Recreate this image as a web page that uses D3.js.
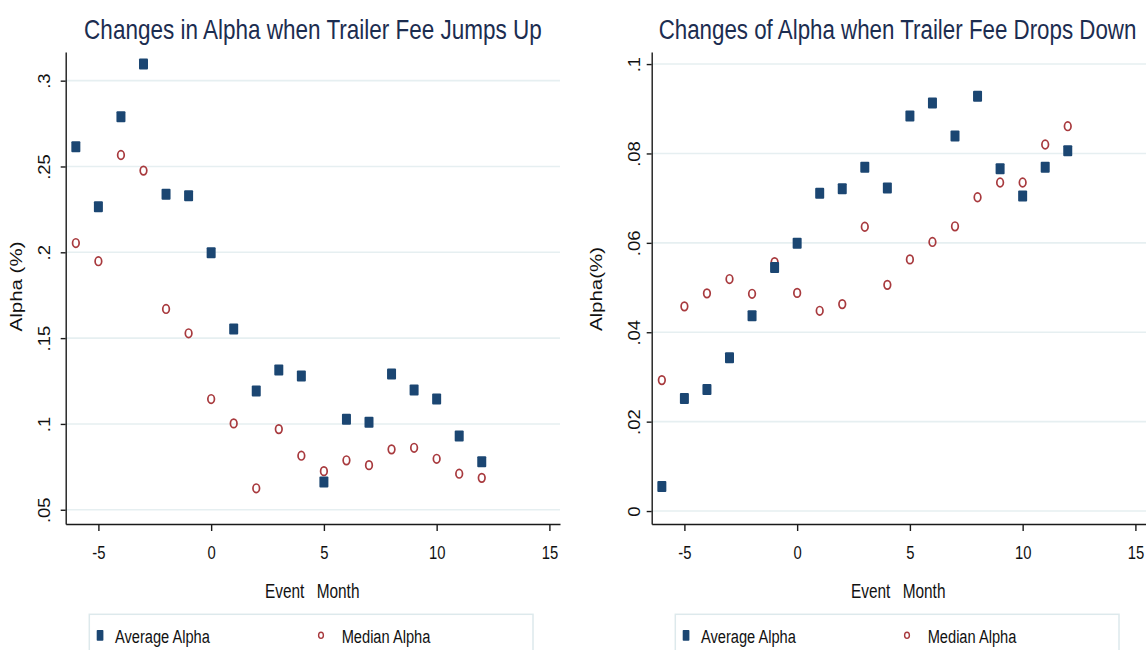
<!DOCTYPE html>
<html><head><meta charset="utf-8">
<script src="https://cdn.jsdelivr.net/npm/d3@7"></script>
<style>body{margin:0;background:#fff} svg text{font-family:"Liberation Sans", Arial, sans-serif}</style>
</head><body><svg id="c" width="1146" height="650"></svg>
<script>
const months = [-6,-5,-4,-3,-2,-1,0,1,2,3,4,5,6,7,8,9,10,11,12];
const upAverage = [0.2615,0.2266,0.279,0.3097,0.2338,0.233,0.1998,0.1553,0.1192,0.1314,0.128,0.0662,0.1027,0.101,0.1291,0.1198,0.1145,0.0929,0.078];
const upMedian  = [0.2054,0.1948,0.2567,0.2476,0.167,0.1528,0.1145,0.1003,0.0625,0.097,0.0815,0.0725,0.0788,0.076,0.0852,0.0861,0.0797,0.071,0.0686];
const downAverage = [0.0055,0.0252,0.0272,0.0343,0.0437,0.0545,0.0599,0.0711,0.0721,0.0769,0.0723,0.0884,0.0913,0.0839,0.0928,0.0766,0.0705,0.0769,0.0806];
const downMedian  = [0.0293,0.0458,0.0487,0.0519,0.0486,0.0557,0.0488,0.0448,0.0463,0.0636,0.0506,0.0563,0.0602,0.0637,0.0702,0.0735,0.0735,0.082,0.0861];
const xTicks = [-5,0,5,10,15];
const xTickLabels = ["-5","0","5","10","15"];
const upYTicks = [0.05,0.1,0.15,0.2,0.25,0.3];
const upYTickLabels = [".05",".1",".15",".2",".25",".3"];
const downYTicks = [0,0.02,0.04,0.06,0.08,0.1];
const downYTickLabels = ["0",".02",".04",".06",".08",".1"];
const titles = ["Changes in Alpha when Trailer Fee Jumps Up","Changes of Alpha when Trailer Fee Drops Down"];
const yTitles = ["Alpha (%)","Alpha(%)"];
const xTitleWords = ["Event","Month"];
const legendLabels = ["Average Alpha","Median Alpha"];

const BLUE = "#1b4672", RED = "#a83a3e", GRID = "#e6eff1", NAVY = "#1c2d50";
const svg = d3.select("#c");

const panels = [
  {ox:0, x0:65.7, yDom:[0.0417,0.3167], avg:upAverage, med:upMedian, yt:upYTicks, ytl:upYTickLabels,
   title:titles[0], titleX:313, titleLen:458, yTitle:yTitles[0], yTitleX:21.6, yTitleY:286.5, tickLabelX:50},
  {ox:586, x0:651.7, yDom:[-0.0029,0.1027], avg:downAverage, med:downMedian, yt:downYTicks, ytl:downYTickLabels,
   title:titles[1], titleX:897.5, titleLen:478, yTitle:yTitles[1], yTitleX:601.6, yTitleY:289, tickLabelX:640}
];
const TOP = 52, BOT = 524, W = 494.3;

panels.forEach(p => {
  const g = svg.append("g");
  const x = d3.scaleLinear().domain([-6.45, 15.47]).range([p.x0, p.x0 + W]);
  const y = d3.scaleLinear().domain(p.yDom).range([BOT, TOP]);

  // grid
  g.append("g").selectAll("line").data(p.yt).join("line")
    .attr("x1", p.x0).attr("x2", p.x0 + W)
    .attr("y1", d => y(d)).attr("y2", d => y(d))
    .attr("stroke", GRID).attr("stroke-width", 1.6);

  // y axis
  const ya = g.append("g").attr("transform", `translate(${p.x0},0)`)
    .call(d3.axisLeft(y).tickValues(p.yt).tickSize(5).tickSizeOuter(0).tickFormat((d,i)=>p.ytl[i]));
  ya.select(".domain").attr("stroke", "#1a1a1a").attr("stroke-width", 1.4);
  ya.selectAll(".tick line").attr("stroke", "#1a1a1a").attr("stroke-width", 1.4);
  ya.selectAll(".tick text").attr("x", null).attr("dy", null)
    .attr("text-anchor", "middle").attr("font-size", 18.5).attr("fill", "#111")
    .attr("font-family", "Liberation Sans, Arial, sans-serif")
    .attr("transform", `translate(${p.tickLabelX - p.x0},0) rotate(-90) scale(1,0.85)`);

  // x axis
  const xa = g.append("g").attr("transform", `translate(0,${BOT})`)
    .call(d3.axisBottom(x).tickValues(xTicks).tickSize(7).tickSizeOuter(0).tickFormat((d,i)=>xTickLabels[i]));
  xa.select(".domain").attr("stroke", "#1a1a1a").attr("stroke-width", 1.4);
  xa.selectAll(".tick line").attr("stroke", "#1a1a1a").attr("stroke-width", 1.4);
  xa.selectAll(".tick text").attr("dy", null).attr("y", 35.3)
    .attr("font-size", 18.5).attr("fill", "#111")
    .attr("font-family", "Liberation Sans, Arial, sans-serif")
    .attr("transform", "scale(0.8,1)");

  // title (scaled horizontally to the measured width)
  const tg = g.append("g");
  const tt = tg.append("text").attr("x", 0).attr("y", 0).attr("text-anchor", "middle")
    .attr("font-size", 28).attr("fill", NAVY).text(p.title);
  const natural = tt.node().getComputedTextLength() || p.titleLen;
  tg.attr("transform", `translate(${p.titleX},39.3) scale(${p.titleLen / natural},1)`);

  // y title
  g.append("text").attr("text-anchor", "middle").attr("font-size", 20.5).attr("fill", "#111")
    .attr("transform", `translate(${p.yTitleX},${p.yTitleY}) rotate(-90) scale(1,0.8)`)
    .text(p.yTitle);

  // x title
  g.append("text").attr("text-anchor", "end").attr("font-size", 20).attr("fill", "#111")
    .attr("transform", `translate(${p.ox + 304.3},598.3) scale(0.77,1)`).text(xTitleWords[0]);
  g.append("text").attr("text-anchor", "start").attr("font-size", 20).attr("fill", "#111")
    .attr("transform", `translate(${p.ox + 316.7},598.3) scale(0.77,1)`).text(xTitleWords[1]);

  // median circles
  g.append("g").selectAll("ellipse").data(months).join("ellipse")
    .attr("cx", d => x(d)).attr("cy", (d,i) => y(p.med[i]))
    .attr("rx", 3.3).attr("ry", 4.3)
    .attr("fill", "none").attr("stroke", RED).attr("stroke-width", 1.7);

  // average squares
  g.append("g").selectAll("rect").data(months).join("rect")
    .attr("x", d => x(d) - 4.5).attr("y", (d,i) => y(p.avg[i]) - 5.5)
    .attr("width", 9).attr("height", 11).attr("rx", 1)
    .attr("fill", BLUE);

  // legend
  const lg = g.append("g");
  lg.append("rect").attr("x", p.ox + 89.3).attr("y", 614.3).attr("width", 443.7).attr("height", 60)
    .attr("fill", "none").attr("stroke", "#dde9ec").attr("stroke-width", 1.5);
  lg.append("rect").attr("x", p.ox + 96.7).attr("y", 630).attr("width", 6.7).attr("height", 10.7).attr("rx", 0.8).attr("fill", BLUE);
  lg.append("text").attr("font-size", 19).attr("fill", "#111")
    .attr("transform", `translate(${p.ox + 115},642.7) scale(0.77,1)`).text(legendLabels[0]);
  lg.append("ellipse").attr("cx", p.ox + 321).attr("cy", 635.3).attr("rx", 2.4).attr("ry", 3.1)
    .attr("fill", "none").attr("stroke", RED).attr("stroke-width", 1.4);
  lg.append("text").attr("font-size", 19).attr("fill", "#111")
    .attr("transform", `translate(${p.ox + 341.7},642.7) scale(0.77,1)`).text(legendLabels[1]);
});
</script></body></html>
